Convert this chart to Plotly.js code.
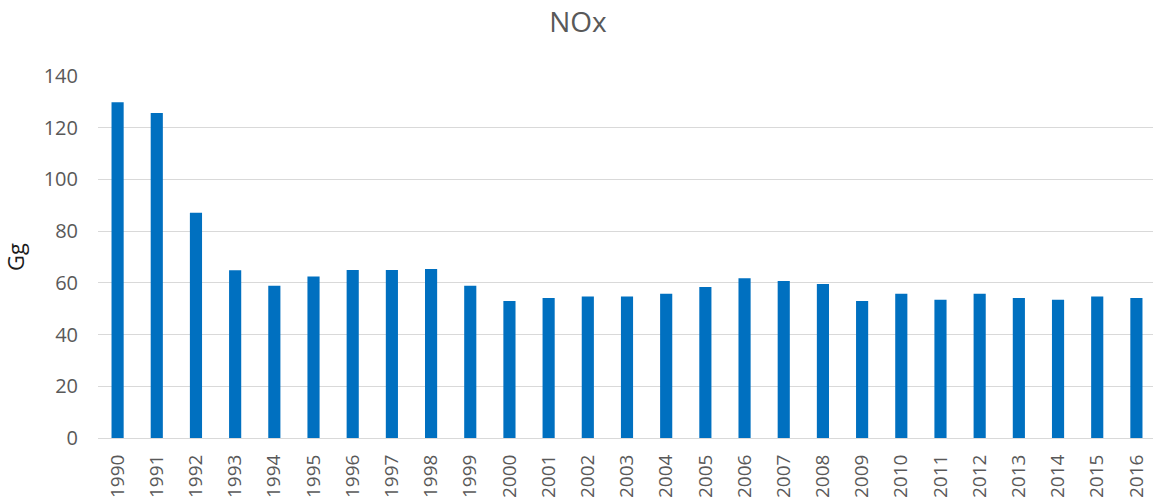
<!DOCTYPE html>
<html>
<head>
<meta charset="utf-8">
<script src="https://cdn.plot.ly/plotly-3.0.1.min.js"></script>
<style>
  html, body { margin: 0; padding: 0; background: #fff; overflow: hidden; }
  #plot { width: 1156px; height: 504px; }
</style>
</head>
<body>
<div id="plot"></div>
<script>
/* NOx emissions, Gg */

var years = ["1990", "1991", "1992", "1993", "1994", "1995", "1996", "1997", "1998", "1999",
  "2000", "2001", "2002", "2003", "2004", "2005", "2006", "2007", "2008", "2009",
  "2010", "2011", "2012", "2013", "2014", "2015", "2016"];

var noxValues = [129.8, 125.7, 87.1, 64.9, 58.9, 62.5, 65.0, 65.0, 65.4, 58.9,
  53.0, 54.1, 54.7, 54.7, 55.8, 58.4, 61.8, 60.7, 59.6, 53.0,
  55.8, 53.5, 55.8, 54.1, 53.5, 54.7, 54.1];

var yTicks = [0, 20, 40, 60, 80, 100, 120, 140];

var textColor = '#595959';
var fontName = '"Open Sans", Lato, sans-serif';

var trace1 =
{
  x: years,
  y: noxValues,
  type: 'bar',
  name: 'NOx',
  marker:
  {
    color: '#0070c0'
  },
  hoverinfo: 'x+y'
};

var layout = {
  title: {
    text: 'NOx',
    font: { family: fontName, size: 28, color: textColor },
    x: 0.5,
    xref: 'container',
    y: 0.955,
    yanchor: 'middle'
  },
  width: 1156,
  height: 504,
  margin: { l: 98, r: 0, t: 76, b: 66 },
  paper_bgcolor: '#ffffff',
  plot_bgcolor: '#ffffff',
  showlegend: false,
  bargap: 0.69,
  xaxis: {
    type: 'category',
    tickangle: -90,
    tickfont: { family: fontName, size: 19, color: textColor },
    showgrid: false,
    showline: true,
    linecolor: '#d9d9d9',
    linewidth: 1,
    ticks: '',
    ticklen: 0,
    ticklabelstandoff: 8
  },
  yaxis: {
    range: [0, 140],
    tickvals: yTicks,
    ticktext: yTicks.map(String),
    tickfont: { family: fontName, size: 20, color: textColor },
    gridcolor: '#d9d9d9',
    gridwidth: 1,
    zeroline: false,
    showline: false,
    ticks: '',
    ticklabelstandoff: 19,
    title: {
      text: 'Gg',
      font: { family: fontName, size: 22, color: '#1a1a1a' },
      standoff: 14
    }
  }
};

var data = [trace1];

Plotly.newPlot("plot", data, layout, { displayModeBar: false, staticPlot: true });
</script>
</body>
</html>
